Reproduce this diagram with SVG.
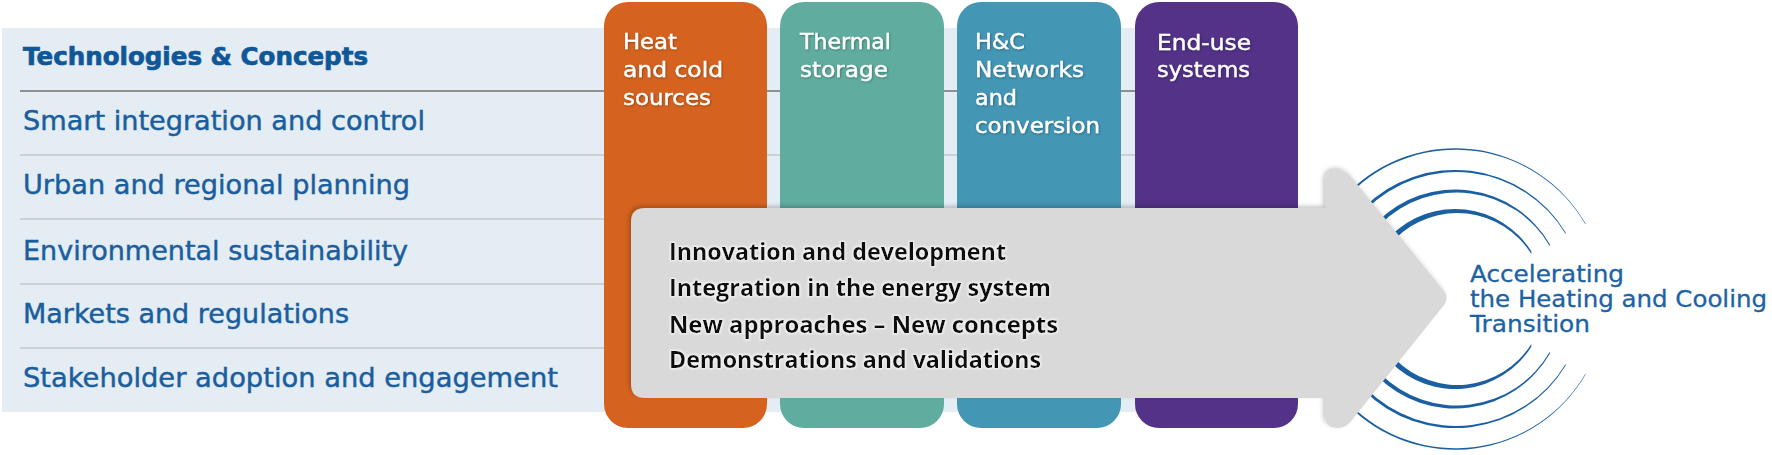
<svg xmlns="http://www.w3.org/2000/svg" xmlns:xlink="http://www.w3.org/1999/xlink" width="1772" height="455" viewBox="0 0 1772 455">
  <style>
    .row { font-family: "DejaVu Sans", "Liberation Sans", sans-serif; font-size: 27px; fill: #1a5e9e; stroke: #1a5e9e; stroke-width: 0.45px; }
    .head { font-family: "DejaVu Sans", "Liberation Sans", sans-serif; font-size: 25px; font-weight: bold; fill: #0f5798; stroke: #0f5798; stroke-width: 0.7px; }
    .col { font-family: "DejaVu Sans", "Liberation Sans", sans-serif; font-size: 22px; fill: #ffffff; stroke: #ffffff; stroke-width: 0.4px; }
    .arr { font-family: "Open Sans", "DejaVu Sans", sans-serif; font-size: 23px; font-weight: 700; fill: #111111; }
    .goal { font-family: "DejaVu Sans", "Liberation Sans", sans-serif; font-size: 23px; fill: #1c62a5; stroke: #1c62a5; stroke-width: 0.3px; }
    .sep { stroke: #c3c7cb; stroke-width: 1.5; }
    .arc { fill: #1a5fa2; }
  </style>
  <defs>
    <filter id="tshadow" x="-10%" y="-30%" width="120%" height="160%">
      <feDropShadow dx="0.8" dy="0.8" stdDeviation="0.9" flood-color="#000" flood-opacity="0.35"/>
    </filter>
    <filter id="ashadow" x="-5%" y="-10%" width="110%" height="120%">
      <feDropShadow dx="-2" dy="-2" stdDeviation="2" flood-color="#000" flood-opacity="0.22"/>
    </filter>
    <filter id="halo" x="-5%" y="-30%" width="110%" height="160%">
      <feMorphology in="SourceAlpha" operator="dilate" radius="1" result="d"/>
      <feGaussianBlur in="d" stdDeviation="0.8" result="b"/>
      <feFlood flood-color="#ffffff" flood-opacity="0.8"/>
      <feComposite in2="b" operator="in" result="w"/>
      <feMerge><feMergeNode in="w"/><feMergeNode in="SourceGraphic"/></feMerge>
    </filter>
  </defs>

  <rect width="1772" height="455" fill="#ffffff"/>

  <g id="panel">
    <rect x="2" y="28" width="1290" height="384" fill="#e4ecf4"/>
    <line x1="20" y1="91" x2="1290" y2="91" stroke="#8f8f8f" stroke-width="2"/>
    <line class="sep" x1="20" y1="155" x2="1290" y2="155"/>
    <line class="sep" x1="20" y1="219" x2="1290" y2="219"/>
    <line class="sep" x1="20" y1="284" x2="1290" y2="284"/>
    <line class="sep" x1="20" y1="348" x2="1290" y2="348"/>
    <text class="head" x="23" y="65" textLength="345" lengthAdjust="spacingAndGlyphs">Technologies &amp; Concepts</text>
    <text class="row" x="23" y="130" textLength="402" lengthAdjust="spacingAndGlyphs">Smart integration and control</text>
    <text class="row" x="23" y="194" textLength="387" lengthAdjust="spacingAndGlyphs">Urban and regional planning</text>
    <text class="row" x="23" y="260" textLength="385" lengthAdjust="spacingAndGlyphs">Environmental sustainability</text>
    <text class="row" x="23" y="323" textLength="326" lengthAdjust="spacingAndGlyphs">Markets and regulations</text>
    <text class="row" x="23" y="387" textLength="535" lengthAdjust="spacingAndGlyphs">Stakeholder adoption and engagement</text>
  </g>

  <g id="col-sources">
    <rect x="604" y="2" width="163" height="426" rx="24" fill="#d5631f"/>
    <g filter="url(#tshadow)">
      <text class="col" x="623" y="49" textLength="54" lengthAdjust="spacingAndGlyphs">Heat</text>
      <text class="col" x="623" y="77" textLength="100" lengthAdjust="spacingAndGlyphs">and cold</text>
      <text class="col" x="623" y="105" textLength="88" lengthAdjust="spacingAndGlyphs">sources</text>
    </g>
  </g>

  <g id="col-storage">
    <rect x="780" y="2" width="164" height="426" rx="24" fill="#60ada0"/>
    <g filter="url(#tshadow)">
      <text class="col" x="800" y="49" textLength="91" lengthAdjust="spacingAndGlyphs">Thermal</text>
      <text class="col" x="800" y="77" textLength="88" lengthAdjust="spacingAndGlyphs">storage</text>
    </g>
  </g>

  <g id="col-networks">
    <rect x="957" y="2" width="164" height="426" rx="24" fill="#4496b5"/>
    <g filter="url(#tshadow)">
      <text class="col" x="975" y="49" textLength="50" lengthAdjust="spacingAndGlyphs">H&amp;C</text>
      <text class="col" x="975" y="77" textLength="109" lengthAdjust="spacingAndGlyphs">Networks</text>
      <text class="col" x="975" y="105" textLength="42" lengthAdjust="spacingAndGlyphs">and</text>
      <text class="col" x="975" y="133" textLength="125" lengthAdjust="spacingAndGlyphs">conversion</text>
    </g>
  </g>

  <g id="col-enduse">
    <rect x="1135" y="2" width="163" height="426" rx="24" fill="#533287"/>
    <g filter="url(#tshadow)">
      <text class="col" x="1157" y="50" textLength="94" lengthAdjust="spacingAndGlyphs">End-use</text>
      <text class="col" x="1157" y="77" textLength="93" lengthAdjust="spacingAndGlyphs">systems</text>
    </g>
  </g>

  <g id="waves">
    <g id="topArcs">
      <path class="arc" d="M 1348.4 192.4 A 150.75 150.75 0 0 1 1585.55 223.6 L 1585.56 224.6 A 149.75 149.75 0 0 0 1349.98 193.6 Z"/>
      <path class="arc" d="M 1363.71 207.71 A 129.1 129.1 0 0 1 1565.66 232.51 L 1565.67 234.0 A 127.63 127.63 0 0 0 1366.02 209.49 Z"/>
      <path class="arc" d="M 1377.57 221.57 A 109.5 109.5 0 0 1 1549.83 244.25 L 1549.83 246.25 A 107.5 107.5 0 0 0 1380.72 223.99 Z"/>
      <path class="arc" d="M 1391.36 235.36 A 90 90 0 0 1 1531.32 251.31 L 1531.37 254.06 A 87.33 87.33 0 0 0 1395.56 238.58 Z"/>
    </g>
    <use xlink:href="#topArcs" href="#topArcs" transform="translate(0,598) scale(1,-1)"/>
  </g>

  <g id="connectors">
    <path filter="url(#ashadow)" fill="#d9d9d9" d="M 645 208 L 1325 208 L 1325 182 Q 1325 170 1338 170 Q 1346 170 1352 178 L 1444 291 Q 1449 298 1444 305 L 1352 420 Q 1346 428 1338 428 Q 1325 428 1325 416 L 1325 398 L 645 398 Q 631 398 631 384 L 631 222 Q 631 208 645 208 Z"/>
  </g>

  <g id="activities" filter="url(#halo)">
    <text class="arr" x="669" y="260" textLength="337" lengthAdjust="spacingAndGlyphs">Innovation and development</text>
    <text class="arr" x="669" y="296" textLength="382" lengthAdjust="spacingAndGlyphs">Integration in the energy system</text>
    <text class="arr" x="669" y="333" textLength="389" lengthAdjust="spacingAndGlyphs">New approaches – New concepts</text>
    <text class="arr" x="669" y="368" textLength="372" lengthAdjust="spacingAndGlyphs">Demonstrations and validations</text>
  </g>

  <g id="goal">
    <text class="goal" x="1470" y="282" textLength="154" lengthAdjust="spacingAndGlyphs">Accelerating</text>
    <text class="goal" x="1470" y="307" textLength="297" lengthAdjust="spacingAndGlyphs">the Heating and Cooling</text>
    <text class="goal" x="1470" y="332" textLength="120" lengthAdjust="spacingAndGlyphs">Transition</text>
  </g>
</svg>
